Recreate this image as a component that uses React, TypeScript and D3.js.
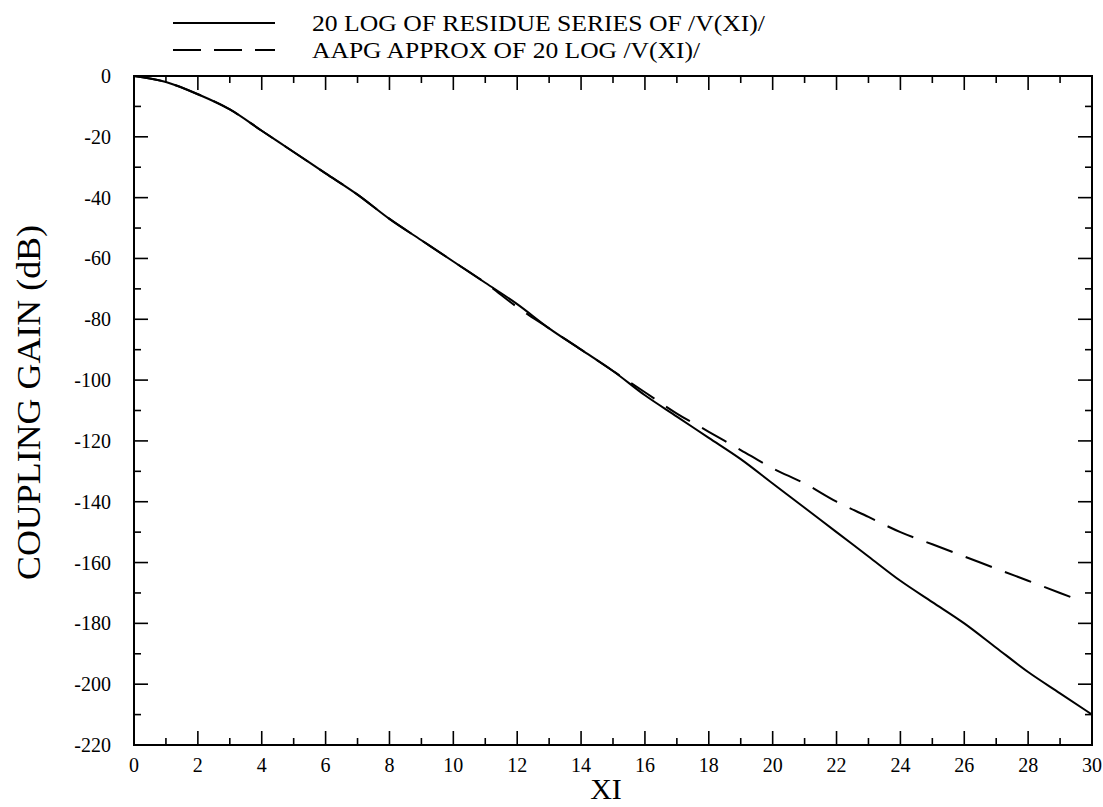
import React from "react";
import * as d3 from "d3";

// values
const xiTicks = [0, 2, 4, 6, 8, 10, 12, 14, 16, 18, 20, 22, 24, 26, 28, 30];
const gainTicks = [0, -20, -40, -60, -80, -100, -120, -140, -160, -180, -200, -220];

const residueXi = [0, 1, 2, 3, 4, 5, 6, 7, 8, 9, 10, 11, 12, 13, 14, 15, 16, 17, 18, 19, 20, 21, 22, 23, 24, 25, 26, 27, 28, 29, 30];
const residueDb = [0, -2, -6, -11, -18, -25, -32, -39, -47, -54, -61, -68, -75, -83, -90, -97, -105, -112, -119, -126, -134, -142, -150, -158, -166, -173, -180, -188, -196, -203, -210];

const aapgXi = [0, 1, 2, 3, 4, 5, 6, 7, 8, 9, 10, 11, 12, 13, 14, 15, 16, 17, 18, 19, 20, 21, 22, 23, 24, 25, 26, 27, 28, 29, 29.5];
const aapgDb = [0, -2, -6, -11, -18, -25, -32, -39, -47, -54, -61, -68, -76, -83, -90, -97, -104, -111, -117, -123, -129, -134, -140, -145, -150, -154, -158, -162, -166, -170, -172];

const legendLabels = ["20 LOG OF RESIDUE SERIES OF /V(XI)/", "AAPG APPROX OF 20 LOG /V(XI)/"];

const W = 1103;
const H = 807;
const font = "'Liberation Serif', 'Times New Roman', serif";

export default function App() {
  const x = d3.scaleLinear().domain([0, 30]).range([134, 1092]);
  const y = d3.scaleLinear().domain([-220, 0]).range([745, 76]);

  const line = d3
    .line<[number, number]>()
    .x((d) => x(d[0]))
    .y((d) => y(d[1]))
    .curve(d3.curveMonotoneX);

  const residue = residueXi.map((v, i) => [v, residueDb[i]] as [number, number]);
  const aapg = aapgXi.map((v, i) => [v, aapgDb[i]] as [number, number]);

  const minorX = d3.range(0, 31, 1);
  const minorY = d3.range(-220, 1, 10);
  const [x0, x1] = x.range();
  const [y0, y1] = [y(-220), y(0)];

  return (
    <svg
      width={W}
      height={H}
      style={{ position: "absolute", left: 0, top: 0, background: "#fff" }}
    >
      <rect x={0} y={0} width={W} height={H} fill="#fff" />

      {/* frame */}
      <rect x={x0} y={y1} width={x1 - x0} height={y0 - y1} fill="none" stroke="#000" strokeWidth={2} />

      {/* x ticks, bottom and top */}
      {minorX.map((t) => {
        const len = t % 2 === 0 ? 14 : 7;
        return (
          <g key={"xt" + t} stroke="#000" strokeWidth={1.6}>
            <line x1={x(t)} x2={x(t)} y1={y0} y2={y0 - len} />
            <line x1={x(t)} x2={x(t)} y1={y1} y2={y1 + len} />
          </g>
        );
      })}
      {/* y ticks, left and right */}
      {minorY.map((t) => {
        const len = t % 20 === 0 ? 14 : 7;
        return (
          <g key={"yt" + t} stroke="#000" strokeWidth={1.6}>
            <line x1={x0} x2={x0 + len} y1={y(t)} y2={y(t)} />
            <line x1={x1} x2={x1 - len} y1={y(t)} y2={y(t)} />
          </g>
        );
      })}

      {/* tick labels */}
      {xiTicks.map((t) => (
        <text key={"xl" + t} x={x(t)} y={772} textAnchor="middle" fontFamily={font} fontSize={20}>
          {t}
        </text>
      ))}
      {gainTicks.map((t) => (
        <text key={"yl" + t} x={111} y={y(t) + 7} textAnchor="end" fontFamily={font} fontSize={20}>
          {t}
        </text>
      ))}

      {/* axis titles */}
      <text x={(x0 + x1) / 2 - 7} y={799} textAnchor="middle" fontFamily={font} fontSize={30}>
        XI
      </text>
      <text
        transform={`translate(40, ${(y0 + y1) / 2 - 8}) rotate(-90)`}
        textAnchor="middle"
        fontFamily={font}
        fontSize={34}
        textLength={355}
        lengthAdjust="spacingAndGlyphs"
      >
        COUPLING GAIN (dB)
      </text>

      {/* curves */}
      <path d={line(residue) || ""} fill="none" stroke="#000" strokeWidth={2} />
      <path d={line(aapg) || ""} fill="none" stroke="#000" strokeWidth={2} strokeDasharray="28,14" />

      {/* legend */}
      <line x1={173} x2={275} y1={23} y2={23} stroke="#000" strokeWidth={2} />
      <line x1={173} x2={275} y1={50} y2={50} stroke="#000" strokeWidth={2} strokeDasharray="28,13" />
      <text x={312} y={31} fontFamily={font} fontSize={24} textLength={453} lengthAdjust="spacingAndGlyphs">
        {legendLabels[0]}
      </text>
      <text x={312} y={58} fontFamily={font} fontSize={24} textLength={388} lengthAdjust="spacingAndGlyphs">
        {legendLabels[1]}
      </text>
    </svg>
  );
}
